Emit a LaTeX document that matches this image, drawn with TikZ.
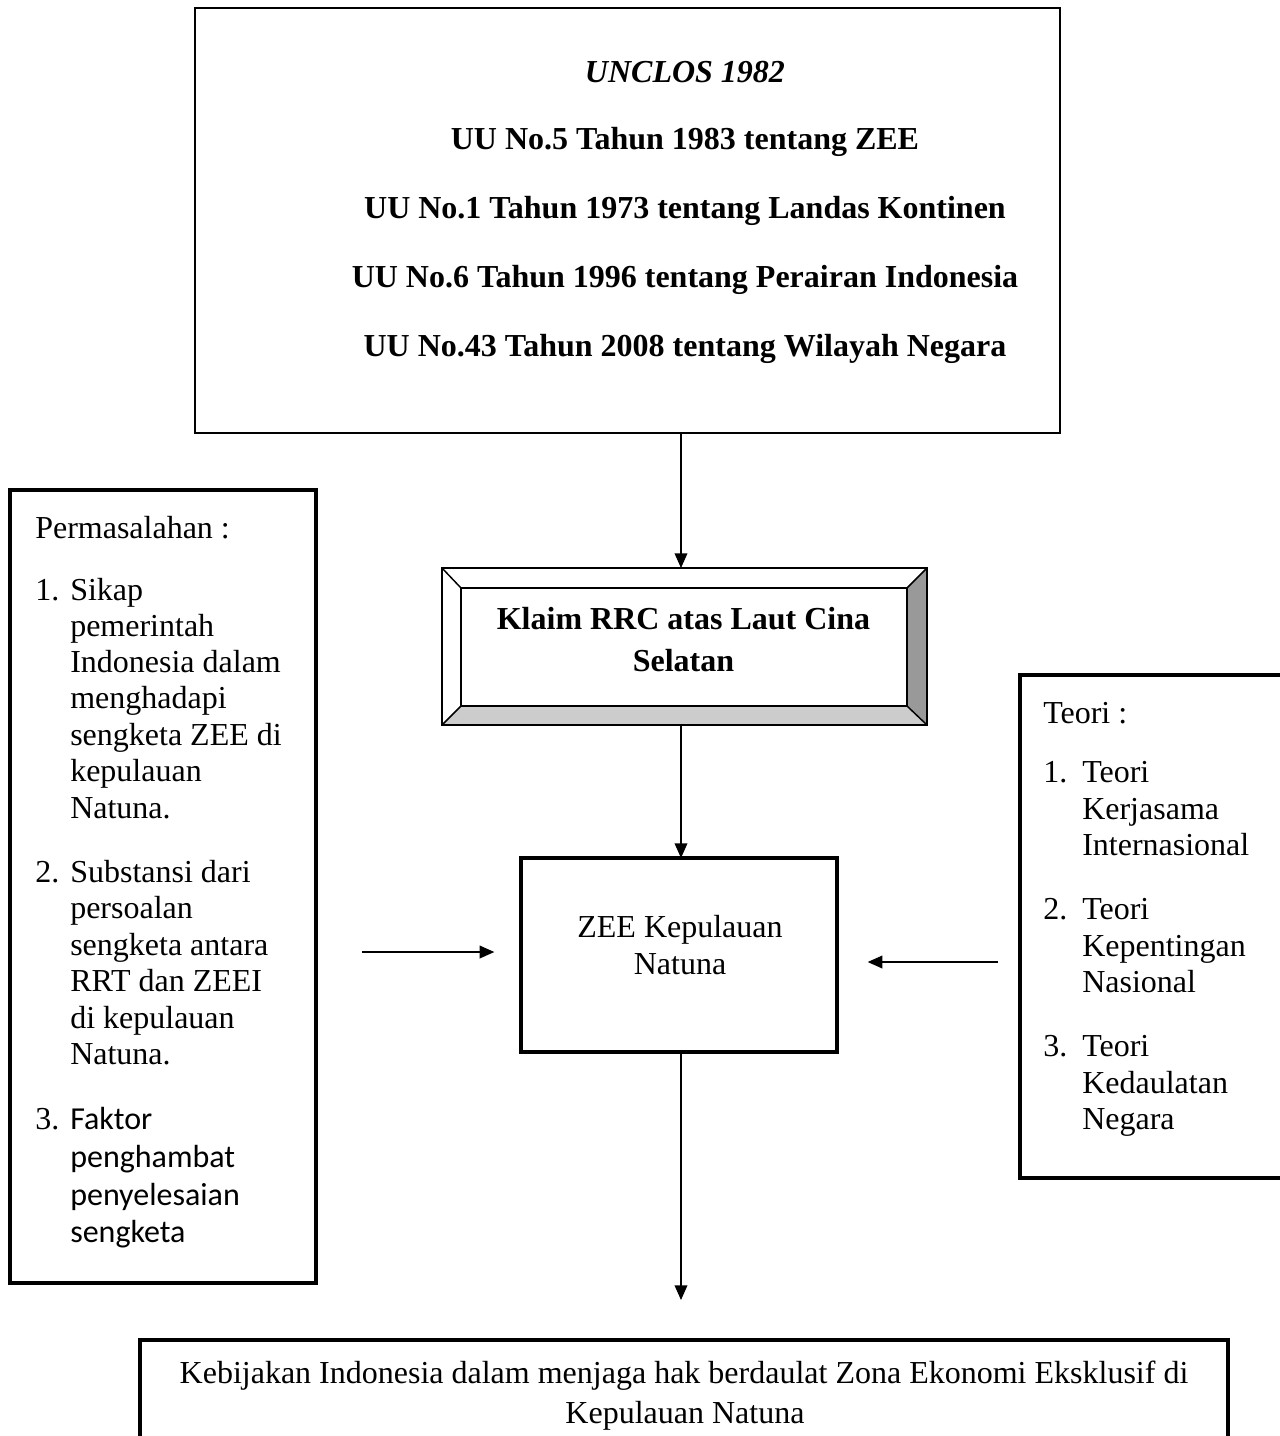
\documentclass[tikz,border=0pt]{standalone}
\usepackage{fontspec}
\setmainfont{Liberation Serif}
\newfontfamily\carlito{Carlito}
\usetikzlibrary{arrows.meta,calc}
\begin{document}
\begin{tikzpicture}[x=0.75pt,y=-0.75pt,
  thinbox/.style={draw,line width=1.3pt,inner sep=0,outer sep=0,fill=white},
  thickbox/.style={draw,line width=3.4pt,inner sep=0,outer sep=0,fill=white},
  txt/.style={inner sep=0,font=\fontsize{24}{28}\selectfont},
  btxt/.style={inner sep=0,font=\fontsize{24}{28}\selectfont\bfseries},
  stxt/.style={inner sep=0,font=\fontsize{24}{28}\selectfont\carlito},
  arr/.style={line width=1.1pt,-{Triangle[length=11pt,width=9.5pt]}}]
\useasboundingbox (0,0) rectangle (1280,1436);
\clip (0,0) rectangle (1280,1436);
\fill[white] (0,0) rectangle (1280,1436);

% top box
\node[thinbox, minimum width=648.75pt, minimum height=318.75pt] (top) at (627.5,220.5) {};
\node[inner sep=0,font=\fontsize{24}{28}\selectfont\bfseries\itshape, anchor=base] (t0) at (685,82) {UNCLOS 1982};
\node[btxt, anchor=base] (t1) at (685,149) {UU No.5 Tahun 1983 tentang ZEE};
\node[btxt, anchor=base] (t2) at (685,218) {UU No.1 Tahun 1973 tentang Landas Kontinen};
\node[btxt, anchor=base] (t3) at (685,287) {UU No.6 Tahun 1996 tentang Perairan Indonesia};
\node[btxt, anchor=base] (t4) at (685,356) {UU No.43 Tahun 2008 tentang Wilayah Negara};

% bevel box
\node[thinbox, minimum width=363.75pt, minimum height=117.75pt] (klaim) at (684.5,646.5) {};
\node[inner sep=0,outer sep=0, minimum width=334.5pt, minimum height=88.5pt] (klaimin) at (684,647) {};
\fill[black!40] (klaim.north east) -- (klaim.south east) -- (klaimin.south east) -- (klaimin.north east) -- cycle;
\fill[black!20] (klaim.south west) -- (klaim.south east) -- (klaimin.south east) -- (klaimin.south west) -- cycle;
\draw[line width=1.3pt] (klaimin.north west) rectangle (klaimin.south east);
\draw[line width=1.1pt] (klaim.north west) -- (klaimin.north west)
  (klaim.north east) -- (klaimin.north east)
  (klaim.south east) -- (klaimin.south east)
  (klaim.south west) -- (klaimin.south west);
\draw[line width=1.3pt] (klaim.north west) rectangle (klaim.south east);
\node[btxt, anchor=base] (k1) at (683.5,629) {Klaim RRC atas Laut Cina};
\node[btxt, anchor=base] (k2) at (683.5,671) {Selatan};

% ZEE box
\node[thickbox, minimum width=237pt, minimum height=145.5pt] (zee) at (679,955) {};
\node[txt, anchor=base] (z1) at (680,937) {ZEE Kepulauan};
\node[txt, anchor=base] (z2) at (680,974) {Natuna};

% left box
\node[thickbox, minimum width=229.5pt, minimum height=594.75pt] (perm) at (163,886.5) {};
\node[txt, anchor=base west] (ph) at (35,538) {Permasalahan :};
\node[txt, anchor=base west] (pn1) at (35,600) {1.};
\foreach \t/\y [count=\i] in {Sikap/600, pemerintah/636, Indonesia dalam/672, menghadapi/708, sengketa ZEE di/745, kepulauan/781, Natuna./818}
  \node[txt, anchor=base west] (pa\i) at (70,\y) {\t};
\node[txt, anchor=base west] (pn2) at (35,882) {2.};
\foreach \t/\y [count=\i] in {Substansi dari/882, persoalan/918, sengketa antara/955, RRT dan ZEEI/991, di kepulauan/1028, Natuna./1064}
  \node[txt, anchor=base west] (pb\i) at (70,\y) {\t};
\node[txt, anchor=base west] (pn3) at (35,1129) {3.};
\foreach \t/\y [count=\i] in {Faktor/1129, penghambat/1167, penyelesaian/1205, sengketa/1242}
  \node[stxt, anchor=base west] (pc\i) at (70,\y) {\t};

% right box
\node[thickbox, minimum width=210pt, minimum height=377.25pt] (teori) at (1160,926.5) {};
\node[txt, anchor=base west] (th) at (1043,723) {Teori :};
\node[txt, anchor=base west] (tn1) at (1043,782) {1.};
\node[txt, anchor=base west] (tn2) at (1043,919) {2.};
\node[txt, anchor=base west] (tn3) at (1043,1056) {3.};
\foreach \t/\y [count=\i] in {Teori/782, Kerjasama/819, Internasional/855, Teori/919, Kepentingan/956, Nasional/992, Teori/1056, Kedaulatan/1093, Negara/1129}
  \node[txt, anchor=base west] (ta\i) at (1082,\y) {\t};

% bottom box
\node[thickbox, minimum width=816pt, minimum height=90pt] (kebijakan) at (684,1400) {};
\node[txt, anchor=base] (b1) at (684,1383) {Kebijakan Indonesia dalam menjaga hak berdaulat Zona Ekonomi Eksklusif di};
\node[txt, anchor=base] (b2) at (685,1423) {Kepulauan Natuna};

% connectors
\coordinate (ax) at (681,0);
\draw[arr] (top.south -| ax) -- (klaim.north -| ax);
\draw[arr] (klaim.south -| ax) -- (zee.north -| ax);
\coordinate (endarrow) at (681,1300);
\draw[arr] (zee.south -| ax) -- (endarrow);
\coordinate (la) at (362,952);
\draw[arr, shorten >=20pt] (la) -- (la -| zee.west);
\coordinate (ra) at (998,962);
\draw[arr, shorten >=23pt] (ra) -- (ra -| zee.east);
\end{tikzpicture}
\end{document}
